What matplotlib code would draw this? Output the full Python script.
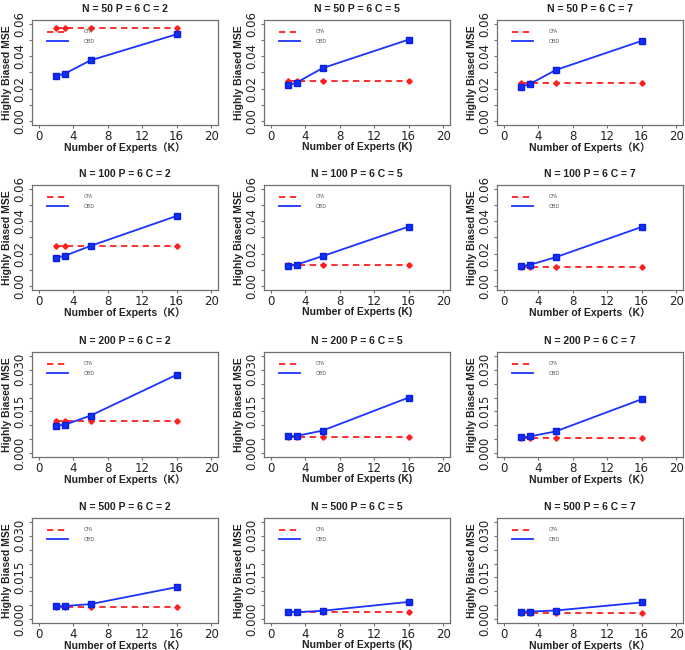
import matplotlib
matplotlib.use("Agg")
import matplotlib.pyplot as plt
from matplotlib.ticker import FixedLocator, FuncFormatter

K = [2, 3, 6, 16]
N_values = [50, 100, 200, 500]
C_values = [2, 5, 7]

# CFA (constant across K) and OBD MSE per panel, rows = N, cols = C
cfa = [
    [0.0573, 0.0246, 0.0238],
    [0.0246, 0.0131, 0.0119],
    [0.0114, 0.0058, 0.0053],
    [0.0043, 0.0024, 0.0022],
]
obd = [
    [[0.0278, 0.0293, 0.0375, 0.0536], [0.0220, 0.0238, 0.0327, 0.0503], [0.0212, 0.0228, 0.0315, 0.0495]],
    [[0.0176, 0.0187, 0.0248, 0.0433], [0.0123, 0.0133, 0.0185, 0.0367], [0.0123, 0.0131, 0.0178, 0.0365]],
    [[0.0099, 0.0102, 0.0135, 0.0282], [0.0060, 0.0062, 0.0081, 0.0200], [0.0057, 0.0060, 0.0078, 0.0194]],
    [[0.0046, 0.0047, 0.0054, 0.0115], [0.0025, 0.0025, 0.0030, 0.0062], [0.0027, 0.0027, 0.0031, 0.0060]],
]
y_max = [0.06, 0.06, 0.035, 0.035]
y_step = [0.01, 0.01, 0.005, 0.005]
y_label_ticks = [[0.0, 0.02, 0.04, 0.06], [0.0, 0.02, 0.04, 0.06],
                 [0.0, 0.015, 0.030], [0.0, 0.015, 0.030]]
y_fmt = ["{:.2f}", "{:.2f}", "{:.3f}", "{:.3f}"]
x_ticks = [0, 4, 8, 12, 16, 20]

W, H = 685, 650
fig = plt.figure(figsize=(W / 100, H / 100), dpi=100)

lefts = [32, 264, 497]
tops = [20, 185, 352, 518]
aw, ah = 186, 105

box_col = "#707070"
txt_col = "#222222"

for r in range(4):
    for c in range(3):
        ax = fig.add_axes([lefts[c] / W, 1 - (tops[r] + ah) / H, aw / W, ah / H])
        ax.plot(K, [cfa[r][c]] * len(K), color="#ff2020", ls=(0, (3.5, 2.5)), lw=1.3,
                marker="D", ms=2.8, mec="#ff2020", mfc="#ff2020", label="CFA", zorder=3)
        ax.plot(K, obd[r][c], color="#1a33ff", ls="-", lw=1.3,
                marker="s", ms=4.2, mec="#0a1ee6", mfc="#1030f0", label="OBD", zorder=4)
        ym = y_max[r]
        ax.set_xlim(-0.8, 20.8)
        ax.set_ylim(-0.04 * ym, ym * 1.04)
        ax.set_xticks(x_ticks)
        nt = int(round(ym / y_step[r])) + 1
        yt = [i * y_step[r] for i in range(nt)]
        ax.yaxis.set_major_locator(FixedLocator(yt))
        labs = y_label_ticks[r]
        fmt = y_fmt[r]
        ax.yaxis.set_major_formatter(FuncFormatter(
            lambda v, p, labs=labs, fmt=fmt: fmt.format(v) if any(abs(v - l) < 1e-9 for l in labs) else ""))
        ax.tick_params(axis="both", direction="out", length=2.5, width=0.8, color=box_col,
                       labelsize=8.5, labelcolor=txt_col, pad=0.8)
        ax.tick_params(axis="y", pad=1.5)
        for lab in ax.get_yticklabels():
            lab.set_rotation(90)
            lab.set_va("center")
        for sp in ax.spines.values():
            sp.set_color(box_col)
            sp.set_linewidth(0.9)
        ax.set_title(f"N = {N_values[r]} P = 6 C = {C_values[c]}", fontsize=7.5,
                     fontweight="bold", family=["Liberation Sans", "DejaVu Sans"], pad=6, color=txt_col)
        if c == 1:
            xl = "Number of Experts (K)"
        else:
            xl = "Number of Experts\uff08K\uff09"
        ax.set_xlabel(xl, fontsize=7.5, fontweight="bold",
                      family=["Liberation Sans", "Noto Sans CJK SC"], labelpad=-0.5, color=txt_col)
        ax.set_ylabel("Highly Biased MSE", fontsize=7.5, fontweight="bold",
                      family=["Liberation Sans", "DejaVu Sans"], labelpad=1, color=txt_col)
        leg = ax.legend(loc="upper left", bbox_to_anchor=(0.07, 0.93), frameon=False,
                        fontsize=3.6, handlelength=4.2, handletextpad=3.2, labelspacing=0.9,
                        borderaxespad=0, labelcolor="#555555")
        for h in leg.legend_handles:
            h.set_marker("")

fig.savefig("out.png", dpi=100)
